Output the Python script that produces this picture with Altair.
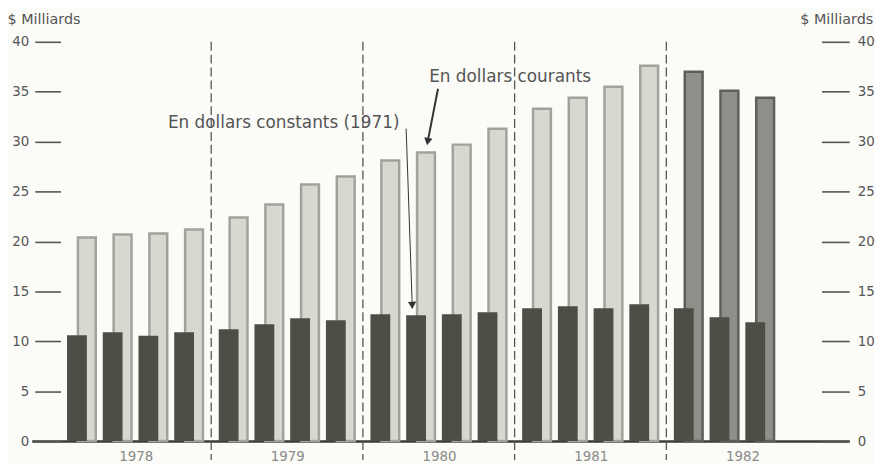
import altair as alt
import pandas as pd

# ---- data ----
years = [1978] * 4 + [1979] * 4 + [1980] * 4 + [1981] * 4 + [1982] * 3
quarters = [1, 2, 3, 4] * 4 + [1, 2, 3]
courants = [20.4, 20.7, 20.8, 21.2, 22.4, 23.7, 25.7, 26.5, 28.1, 28.9, 29.7, 31.3,
            33.3, 34.4, 35.5, 37.6, 37.0, 35.1, 34.4]
constants = [10.6, 10.9, 10.55, 10.9, 11.2, 11.7, 12.3, 12.1, 12.7, 12.6, 12.7, 12.9,
             13.3, 13.5, 13.3, 13.7, 13.3, 12.4, 11.9]
year_labels = [1978, 1979, 1980, 1981, 1982]
separator_years = [1979, 1980, 1981, 1982]
y_ticks = [0, 5, 10, 15, 20, 25, 30, 35, 40]

ann_texts = ["En dollars courants", "En dollars constants (1971)"]
ann_t = [1980.322, 1978.600]
ann_v = [36.5, 31.9]

arrow_t1 = [1980.380, 1980.170]
arrow_v1 = [35.3, 31.3]
arrow_t2 = [1980.312, 1980.210]
arrow_v2 = [30.0, 13.6]
arrow_w = [2.0, 1.0]
head_angle = [10, 358]

# ---- layout constants ----
QSTEP = 0.2355
LABEL_SHIFT = 0.387
SEP_SHIFT = -0.115
W, H = 825, 403

df = pd.DataFrame({"year": years, "q": quarters, "courants": courants, "constants": constants})
df["t"] = df["year"] + (df["q"] - 1) * QSTEP
df["kind"] = ["b" if y == 1982 else "a" for y in years]

sep_df = pd.DataFrame({"t": [y + SEP_SHIFT for y in separator_years]})
ann_df = pd.DataFrame({"label": ann_texts, "t": ann_t, "v": ann_v})
arr_df = pd.DataFrame({"t1": arrow_t1, "v1": arrow_v1, "t2": arrow_t2, "v2": arrow_v2,
                       "w": arrow_w, "ang": head_angle})

FONT = "DejaVu Sans"
TXT = "#555555"

xscale = alt.Scale(domain=[1977.735, 1983.058], nice=False, zero=False)
yscale = alt.Scale(domain=[0, 40], nice=False)

x_axis = alt.Axis(values=[y + LABEL_SHIFT for y in year_labels],
                  labelExpr="'' + floor(datum.value)", ticks=False, grid=False,
                  domainColor="#3a3a3a", domainWidth=2.5, labelFont=FONT, labelFontSize=13.5,
                  labelColor="#8a8a8a", labelPadding=9, title=None, labelFlush=False)

left_axis = alt.Axis(orient="left", offset=-29, values=y_ticks, tickSize=26, tickColor=TXT,
                     tickWidth=1.6, domain=False, grid=False, labelPadding=6, labelFont=FONT,
                     labelFontSize=13.5, labelColor=TXT, title="$ Milliards", titleAngle=0,
                     titleAlign="left", titleBaseline="middle", titleX=-54, titleY=-22,
                     titleFont=FONT, titleFontSize=14.5, titleFontWeight="normal", titleColor=TXT)

right_axis = alt.Axis(orient="right", offset=-28, values=y_ticks, tickSize=28, tickColor=TXT,
                      tickWidth=1.6, domain=False, grid=False, labelPadding=8, labelFont=FONT,
                      labelFontSize=13.5, labelColor=TXT, title="$ Milliards", titleAngle=0,
                      titleAlign="left", titleBaseline="middle", titleX=-22, titleY=-22,
                      titleFont=FONT, titleFontSize=14.5, titleFontWeight="normal", titleColor=TXT)

seps = alt.Chart(sep_df).mark_rule(color="#555555", strokeWidth=1.3, strokeDash=[9, 4]).encode(
    x=alt.X("t:Q", scale=xscale, axis=x_axis),
    y=alt.datum(40, scale=yscale, axis=None),
    y2=alt.value(H + 19),
)

light = alt.Chart(df).mark_bar(size=18, orient="vertical", xOffset=10, strokeWidth=2.5).encode(
    x=alt.X("t:Q", scale=xscale, axis=x_axis),
    y=alt.Y("courants:Q", scale=yscale, axis=left_axis),
    fill=alt.Fill("kind:N", scale=alt.Scale(domain=["a", "b"], range=["#d8d8d1", "#8f8f8a"]), legend=None),
    stroke=alt.Stroke("kind:N", scale=alt.Scale(domain=["a", "b"], range=["#a2a29c", "#5e5e5a"]), legend=None),
)

dark = alt.Chart(df).mark_bar(size=20, orient="vertical", color="#4c4f45").encode(
    x=alt.X("t:Q", scale=xscale, axis=x_axis),
    y=alt.Y("constants:Q", scale=yscale, axis=right_axis),
)

texts = alt.Chart(ann_df).mark_text(align="left", baseline="middle", font=FONT, fontSize=17,
                                    color=TXT).encode(
    x=alt.X("t:Q", scale=xscale, axis=x_axis),
    y=alt.Y("v:Q", scale=yscale, axis=None),
    text="label:N",
)

arrows = alt.Chart(arr_df).mark_rule(color="#333333").encode(
    x=alt.X("t1:Q", scale=xscale, axis=x_axis),
    y=alt.Y("v1:Q", scale=yscale, axis=None),
    x2="t2:Q",
    y2="v2:Q",
    strokeWidth=alt.StrokeWidth("w:Q", scale=None),
)

heads = alt.Chart(arr_df).mark_point(shape="triangle-down", filled=True, size=70, color="#333333",
                                     opacity=1).encode(
    x=alt.X("t2:Q", scale=xscale, axis=x_axis),
    y=alt.Y("v2:Q", scale=yscale, axis=None),
    angle=alt.Angle("ang:Q", scale=None),
)

chart = (
    alt.layer(seps, light, dark, texts, arrows, heads)
    .resolve_axis(y="independent")
    .properties(width=W, height=H, background="#fbfbf8",
                padding={"left": 24, "top": 32, "right": 26, "bottom": 21},
                autosize=alt.AutoSizeParams(type="none"))
    .configure_view(stroke=None)
)

chart.save("out.html", embed_options={"renderer": "svg", "actions": False})
